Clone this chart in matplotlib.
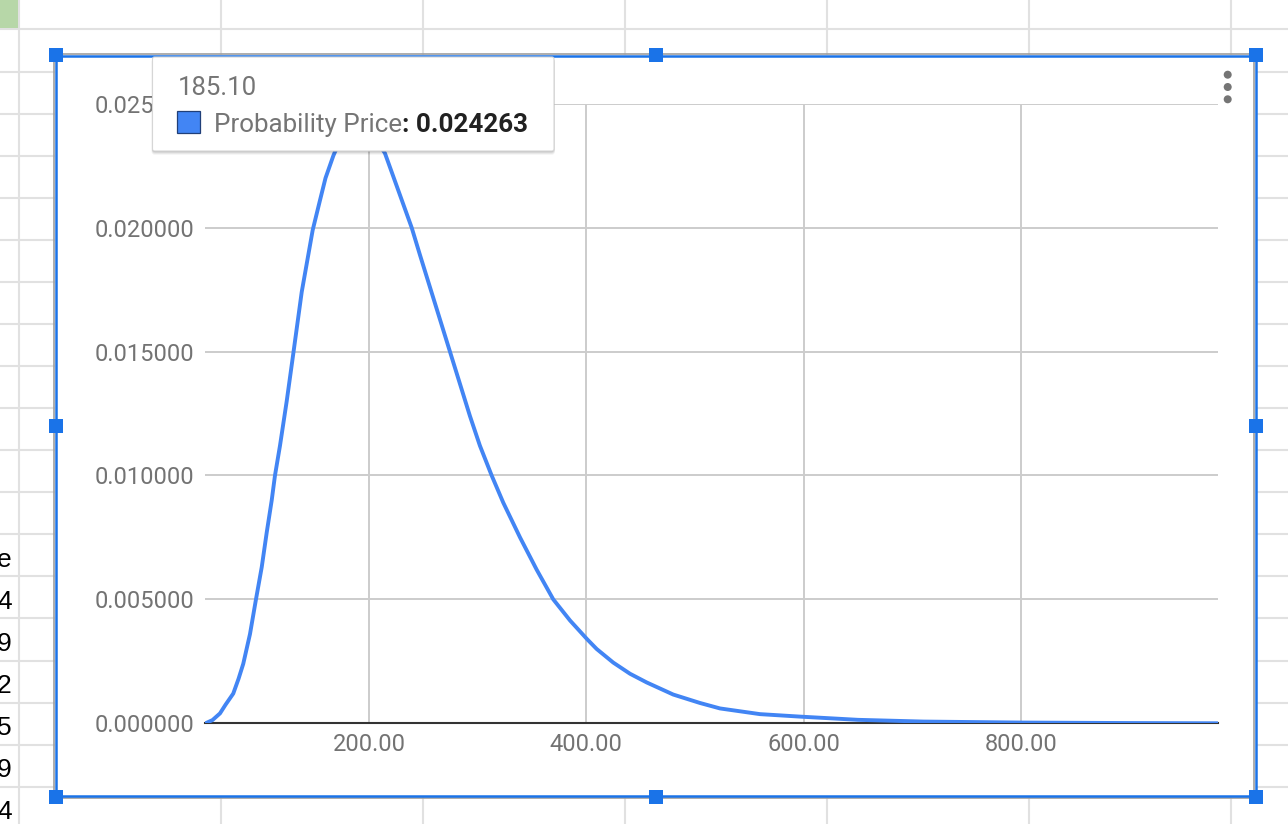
import matplotlib
matplotlib.use("Agg")
import matplotlib.pyplot as plt
from matplotlib.patches import Rectangle, FancyBboxPatch, Circle
from matplotlib.ticker import FormatStrFormatter

# ---------------- data ----------------
price = [49.5, 56.0, 62.9, 68.0, 75.1, 80.0, 84.3, 90.5, 96.0, 101.3, 105.9,
         110.5, 113.5, 118.1, 124.3, 130.3, 138.1, 148.2, 154.9, 160.0, 167.2,
         176.0, 185.1, 198.0, 206.0, 214.7, 227.0, 239.3, 246.9, 256.1, 265.3,
         274.5, 283.7, 292.9, 302.1, 312.9, 323.6, 339.0, 354.3, 369.6, 385.0,
         400.6, 409.5, 424.8, 440.2, 455.5, 480.0, 504.6, 523.0, 559.8, 596.6,
         650.0, 710.0, 800.0, 900.0, 981.0]
probability = [0.0, 0.00013, 0.0004, 0.00075, 0.0012, 0.0018, 0.0024, 0.0036,
               0.0050, 0.0063, 0.0077, 0.0090, 0.0100, 0.0112, 0.0130, 0.0149,
               0.0174, 0.0199, 0.0211, 0.0220, 0.0229, 0.0238, 0.024263, 0.0240,
               0.0236, 0.0230, 0.0215, 0.0200, 0.0189, 0.0176, 0.0163, 0.0150,
               0.0137, 0.0124, 0.0112, 0.0100, 0.0089, 0.0075, 0.0062, 0.0050,
               0.00415, 0.0034, 0.0030, 0.00245, 0.0020, 0.00165, 0.00116, 0.00082,
               0.0006, 0.00037, 0.00027, 0.00014, 0.00007, 0.00003, 0.00001, 0.0]
x_ticks = [200, 400, 600, 800]
y_ticks = [0.0, 0.005, 0.010, 0.015, 0.020, 0.025]
series_name = "Probability Price"
tooltip_x = 185.10
tooltip_y = 0.024263
side_cells = ["e", "4", "9", "2", "5", "9", "4"]

# ---------------- layout ----------------
W, H = 1288, 824
LINE_BLUE = "#4285f4"
SEL_BLUE = "#1a73e8"
CELL_GRID = "#e1e1e1"
AX_GRAY = "#737373"

fig = plt.figure(figsize=(W / 100, H / 100), dpi=100)
fig.patch.set_facecolor("white")

# background (spreadsheet) axes in pixel coordinates
bg = fig.add_axes([0, 0, 1, 1], zorder=0)
bg.set_xlim(0, W)
bg.set_ylim(H, 0)
bg.axis("off")

for vx in [19, 221, 423, 625, 827, 1029, 1231]:
    bg.plot([vx, vx], [0, H], color=CELL_GRID, lw=1.5, zorder=1)
for hy in [29.3, 71.7, 114, 155.7, 198, 240, 282, 324, 366, 408, 450, 492,
           534, 576, 618.3, 660.7, 702.7, 744.7, 786.7]:
    bg.plot([0, W], [hy, hy], color=CELL_GRID, lw=1.5, zorder=1)
bg.add_patch(Rectangle((0, 0), 18, 28.3, facecolor="#b7d7a8", edgecolor="none", zorder=2))

for i, s in enumerate(side_cells):
    bg.text(11.7, 566.7 + 42.0 * i, s, ha="right", va="baseline",
            fontsize=19, family="Liberation Sans", color="black", zorder=2)

# chart white box
bg.add_patch(Rectangle((55, 54.5), 1201, 742.5, facecolor="white", edgecolor="none", zorder=3))

# ---------------- plot axes ----------------
left_px, right_px, top_px, bot_px = 205.0, 1218.3, 103.7, 723.3
ax = fig.add_axes([left_px / W, (H - bot_px) / H, (right_px - left_px) / W,
                   (bot_px - top_px) / H], zorder=1)
ax.set_facecolor("white")
ax.plot(price, probability, color=LINE_BLUE, lw=2.8, solid_joinstyle="round",
        solid_capstyle="round", zorder=3)
ax.set_xlim(49.1, 981.6)
ax.set_ylim(0, 0.025)
ax.set_xticks(x_ticks)
ax.set_yticks(y_ticks)
ax.xaxis.set_major_formatter(FormatStrFormatter("%.2f"))
ax.yaxis.set_major_formatter(FormatStrFormatter("%.6f"))
ax.grid(True, color="#cccccc", lw=1.4, zorder=0)
ax.set_axisbelow(True)
for side in ["top", "right", "left"]:
    ax.spines[side].set_visible(False)
ax.spines["bottom"].set_color("#333333")
ax.spines["bottom"].set_linewidth(1.5)
ax.spines["bottom"].set_zorder(2.5)
ax.tick_params(axis="both", length=0, labelsize=17, labelcolor=AX_GRAY)
ax.tick_params(axis="y", pad=8)
ax.tick_params(axis="x", pad=7)
for lab in ax.get_xticklabels() + ax.get_yticklabels():
    lab.set_family("Roboto")

# ---------------- overlay axes (selection, tooltip, menu) ----------------
ov = fig.add_axes([0, 0, 1, 1], zorder=2)
ov.set_xlim(0, W)
ov.set_ylim(H, 0)
ov.axis("off")

# chart border (gray) and selection border (blue)
ov.add_patch(Rectangle((54.3, 53.5), 1199.5, 744.5, facecolor="none",
                       edgecolor="#9e9e9e", lw=1.2, zorder=1))
ov.add_patch(Rectangle((56, 55.5), 1199.7, 740.8, facecolor="none",
                       edgecolor=SEL_BLUE, lw=1.8, zorder=2))
for hx, hy in [(56, 55), (656, 55), (1256, 55), (56, 426), (1256, 426),
               (56, 797), (656, 797), (1256, 797)]:
    ov.add_patch(Rectangle((hx - 7, hy - 7), 14, 14, facecolor=SEL_BLUE,
                           edgecolor="none", zorder=3))

# menu dots
for dy in [74.7, 87.0, 99.3]:
    ov.add_patch(Circle((1227.7, dy), 4.0, facecolor="#757575", edgecolor="none", zorder=3))

# tooltip with shadow
tx0, ty0, tw, th = 152.5, 57.0, 401.5, 94.0
for off, alpha in [(3.0, 0.06), (2.0, 0.08), (1.0, 0.12)]:
    ov.add_patch(FancyBboxPatch((tx0 - off * 0.3, ty0 + off * 0.6), tw + off * 0.6, th + off * 0.6,
                                boxstyle="round,pad=0,rounding_size=3",
                                facecolor="black", edgecolor="none", alpha=alpha, zorder=4))
ov.add_patch(FancyBboxPatch((tx0, ty0), tw, th, boxstyle="round,pad=0,rounding_size=2",
                            facecolor="white", edgecolor="#d6d6d6", lw=0.8, zorder=5))
ov.text(178, 95, f"{tooltip_x:.2f}", ha="left", va="baseline", fontsize=18.5,
        family="Roboto", color="#757575", zorder=6)
ov.add_patch(Rectangle((177.5, 111), 23, 22, facecolor=LINE_BLUE,
                       edgecolor="#203f78", lw=0.9, zorder=6))
t1 = ov.text(214, 131.7, series_name, ha="left", va="baseline", fontsize=18.7,
             family="Roboto", color="#757575", zorder=6)
renderer = fig.canvas.get_renderer()
bb = t1.get_window_extent(renderer=renderer)
x_end = ov.transData.inverted().transform((bb.x1, bb.y0))[0]
ov.text(x_end, 131.7, f": {tooltip_y:.6f}", ha="left", va="baseline", fontsize=18.7,
        family="Roboto", fontweight="bold", color="#212121", zorder=6)

fig.savefig("out.png", dpi=100)
